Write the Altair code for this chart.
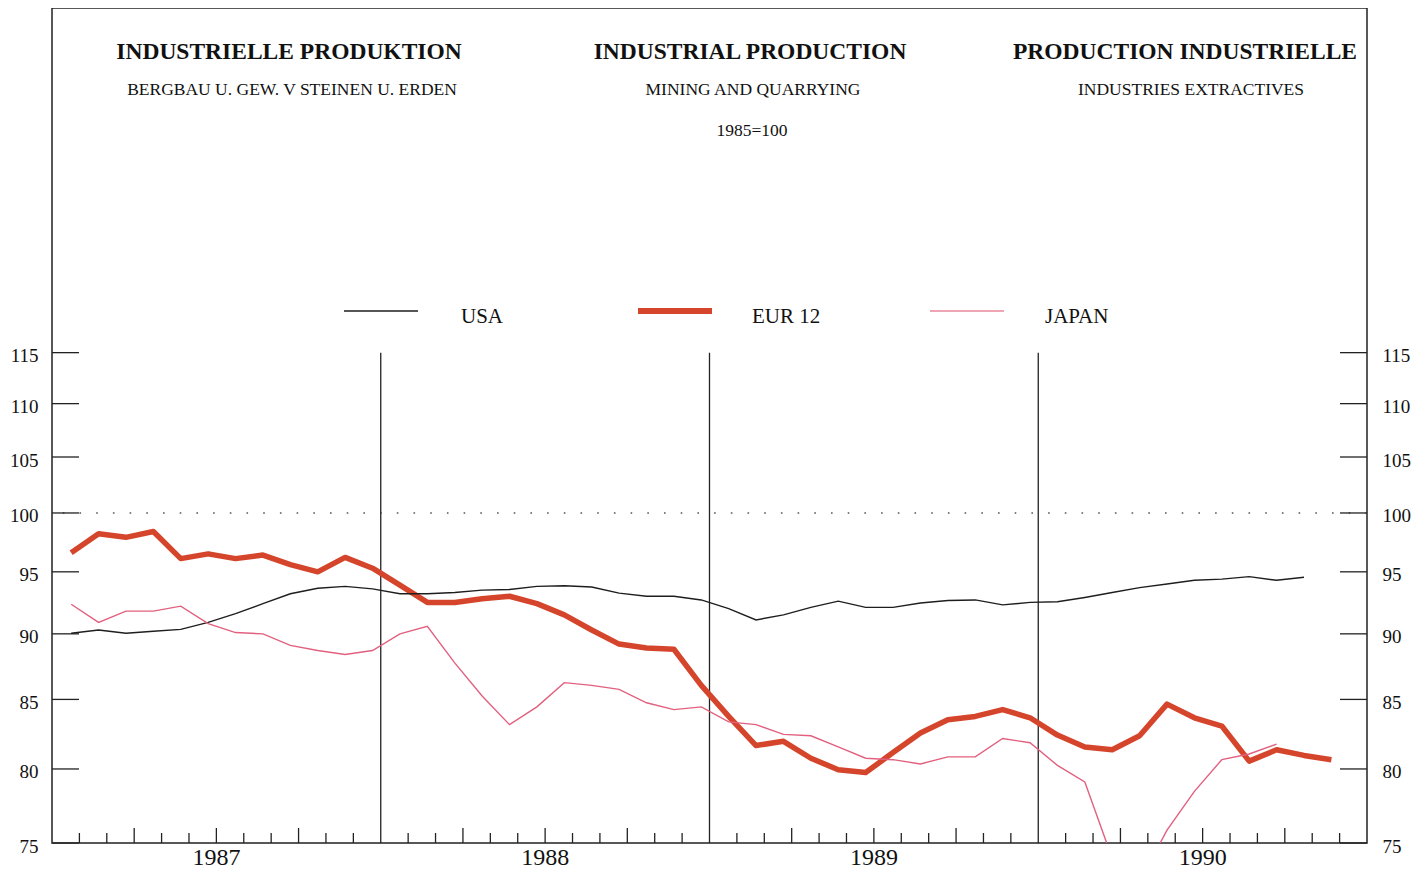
import altair as alt
import pandas as pd

# ---------------- data (monthly index values, 1985=100) ----------------
usa = [90.05, 90.3, 90.05, 90.2, 90.35, 90.9, 91.6, 92.4, 93.2, 93.65, 93.8, 93.6,
       93.2, 93.2, 93.3, 93.5, 93.55, 93.8, 93.85, 93.75, 93.25, 93.0, 93.0, 92.7,
       92.0, 91.1, 91.5, 92.1, 92.6, 92.1, 92.1, 92.45, 92.65, 92.7, 92.3, 92.5,
       92.55, 92.9, 93.3, 93.7, 94.0, 94.3, 94.4, 94.6, 94.3, 94.55]
eur12 = [96.6, 98.2, 97.9, 98.4, 96.1, 96.5, 96.1, 96.4, 95.6, 95.0, 96.2, 95.3,
         93.9, 92.5, 92.5, 92.8, 93.0, 92.4, 91.5, 90.3, 89.2, 88.9, 88.8, 86.05,
         83.75, 81.65, 81.95, 80.75, 79.95, 79.75, 81.15, 82.55, 83.5, 83.75, 84.25, 83.65,
         82.4, 81.55, 81.35, 82.35, 84.65, 83.65, 83.05, 80.55, 81.35, 80.95, 80.65]
japan = [92.35, 90.9, 91.8, 91.8, 92.2, 90.8, 90.1, 90.0, 89.1, 88.7, 88.4, 88.7,
         90.0, 90.6, 87.75, 85.25, 83.15, 84.45, 86.25, 86.05, 85.75, 84.75, 84.25, 84.45,
         83.35, 83.15, 82.45, 82.35, 81.55, 80.75, 80.65, 80.35, 80.85, 80.85, 82.15, 81.85,
         80.25, 79.1, 74.0, 72.5, 75.85, 78.45, 80.65, 81.05, 81.75]

series_names = ["USA", "EUR 12", "JAPAN"]
years = ["1987", "1988", "1989", "1990"]
year_centres = [6, 18, 30, 42]          # month index of mid-year
year_breaks = [12, 24, 36]              # month index of year boundaries
y_ticks = [75, 80, 85, 90, 95, 100, 105, 110, 115]
months_minor = [m for m in range(1, 48) if m % 3 != 0]
months_major = [m for m in range(3, 48, 3) if m % 12 != 0]

title_de = "INDUSTRIELLE PRODUKTION"
title_en = "INDUSTRIAL PRODUCTION"
title_fr = "PRODUCTION INDUSTRIELLE"
sub_de = "BERGBAU U. GEW. V STEINEN U. ERDEN"
sub_en = "MINING AND QUARRYING"
sub_fr = "INDUSTRIES EXTRACTIVES"
base_note = "1985=100"

# ---------------- styling ----------------
FONT = "Liberation Serif"
W, H = 1315, 835
C_USA, C_EUR, C_JAP = "#1e1e1e", "#d5452c", "#e2607f"
MONTH_POS = 0.7

XS = alt.Scale(domain=[0, 48], nice=False, zero=False)
YS = alt.Scale(type="log", domain=[75, 155.3], nice=False)


def series_frame(vals):
    return pd.DataFrame({"t": [i + MONTH_POS for i in range(len(vals))], "value": vals})


def xq(field="t"):
    return alt.X(f"{field}:Q", scale=XS, axis=None)


def yq(field="value"):
    return alt.Y(f"{field}:Q", scale=YS, axis=None)


one = pd.DataFrame({"k": [0]})

# dotted reference line at 100
ref100 = alt.Chart(pd.DataFrame({"v": [100]})).mark_rule(
    color="#555", strokeWidth=1.6, strokeDash=[1.6, 15.1]
).encode(y=yq("v"))

# year boundary lines
year_rules = alt.Chart(pd.DataFrame({"t": year_breaks})).mark_rule(
    color="#222", strokeWidth=1.3
).encode(
    x=xq(),
    y=alt.YDatum(115, scale=YS, axis=None),
    y2=alt.Y2Datum(75),
)

# year labels below the axis
year_labels = alt.Chart(pd.DataFrame({"t": year_centres, "label": years})).mark_text(
    font=FONT, fontSize=24, color="#111", align="center", baseline="alphabetic"
).encode(x=xq(), y=alt.value(H + 22), text="label:N")

minor_ticks = alt.Chart(pd.DataFrame({"t": months_minor})).mark_rule(
    color="#222", strokeWidth=1.3
).encode(x=xq(), y=alt.value(H), y2=alt.value(H - 10))

major_ticks = alt.Chart(pd.DataFrame({"t": months_major})).mark_rule(
    color="#222", strokeWidth=1.3
).encode(x=xq(), y=alt.value(H), y2=alt.value(H - 15))

ticks_df = pd.DataFrame({"v": y_ticks})
left_ticks = alt.Chart(ticks_df).mark_rule(color="#222", strokeWidth=1.3).encode(
    y=alt.Y("v:Q", scale=YS, axis=alt.Axis(
        orient="left", values=y_ticks, format="d", ticks=False, tickSize=0, domain=False,
        grid=False, labelFont=FONT, labelFontSize=19, labelColor="#111", labelPadding=14,
        labelOffset=3, title=None)),
    x=alt.value(0), x2=alt.value(27),
)
right_ticks = alt.Chart(ticks_df).mark_rule(color="#222", strokeWidth=1.3).encode(
    y=alt.Y("v:Q", scale=YS, axis=alt.Axis(
        orient="right", values=y_ticks, format="d", ticks=False, tickSize=0, domain=False,
        grid=False, labelFont=FONT, labelFontSize=19, labelColor="#111", labelPadding=15,
        labelOffset=3, title=None)),
    x=alt.value(W - 27), x2=alt.value(W),
)

eur_line = alt.Chart(series_frame(eur12)).mark_line(
    color=C_EUR, strokeWidth=5.5, clip=True, strokeJoin="round"
).encode(x=xq(), y=yq())
usa_line = alt.Chart(series_frame(usa)).mark_line(
    color=C_USA, strokeWidth=1.4, clip=True
).encode(x=xq(), y=yq())
jap_line = alt.Chart(series_frame(japan)).mark_line(
    color=C_JAP, strokeWidth=1.4, clip=True
).encode(x=xq(), y=yq())

# manual legend
legend_layers = []
for name, col, sw, x0, xt in [(series_names[0], C_USA, 1.5, 292, 409),
                              (series_names[1], C_EUR, 6, 586, 700),
                              (series_names[2], "#e8899c", 1.6, 878, 993)]:
    legend_layers.append(alt.Chart(one).mark_rule(color=col, strokeWidth=sw).encode(
        x=alt.value(x0), x2=alt.value(x0 + 74), y=alt.value(303)))
    legend_layers.append(alt.Chart(pd.DataFrame({"label": [name]})).mark_text(
        font=FONT, fontSize=21, color="#111", align="left", baseline="middle"
    ).encode(text="label:N", x=alt.value(xt), y=alt.value(309)))


def text_layer(txt, x, y, size, bold=False):
    return alt.Chart(pd.DataFrame({"label": [txt]})).mark_text(
        font=FONT, fontSize=size, fontWeight="bold" if bold else "normal", color="#111",
        align="center", baseline="middle"
    ).encode(text="label:N", x=alt.value(x), y=alt.value(y))


titles = [
    text_layer(title_de, 237, 44, 23.5, True),
    text_layer(title_en, 698, 44, 23.5, True),
    text_layer(title_fr, 1133, 44, 23.5, True),
    text_layer(sub_de, 240, 82, 17.5),
    text_layer(sub_en, 701, 82, 17.5),
    text_layer(sub_fr, 1139, 82, 17.5),
    text_layer(base_note, 700, 123, 17.5),
]

chart = alt.layer(
    ref100, year_rules, year_labels, minor_ticks, major_ticks, left_ticks, right_ticks,
    eur_line, usa_line, jap_line, *legend_layers, *titles
).resolve_axis(y="independent").properties(
    width=W, height=H,
    autosize=alt.AutoSizeParams(type="none"),
    padding={"left": 44, "top": 0, "right": 50, "bottom": 28},
    background="white",
).configure_view(stroke="#222", strokeWidth=1.5)

chart.save("out.html", embed_options={"renderer": "svg", "actions": False})
